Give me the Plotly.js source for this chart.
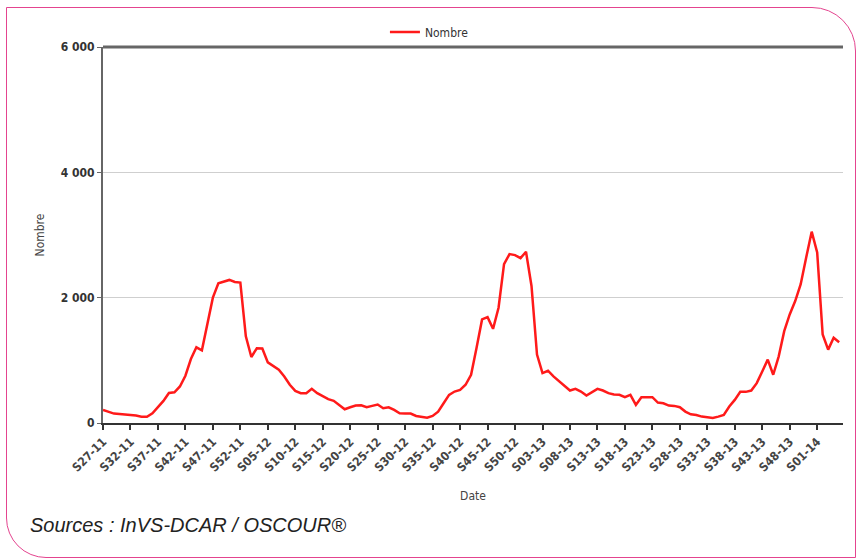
<!DOCTYPE html>
<html>
<head>
<meta charset="utf-8">
<script src="https://cdn.plot.ly/plotly-3.0.1.min.js"></script>
<style>
  html, body { margin: 0; padding: 0; background: #fff; }
  #wrap { position: relative; width: 858px; height: 558px; overflow: hidden; }
  #frame { position: absolute; left: 6px; top: 7px; width: 850px; height: 551px;
           border: 1.5px solid #e4448f; border-top-right-radius: 44px; border-bottom-left-radius: 40px;
           box-sizing: border-box; }
  #chart { position: absolute; left: 0; top: 0; width: 858px; height: 558px; }
</style>
</head>
<body>
<div id="wrap">
  <div id="frame"></div>
  <div id="chart"></div>
</div>
<script>
// Week labels (categories)
const weeks = [
  "S27-11","S28-11","S29-11","S30-11","S31-11","S32-11","S33-11","S34-11","S35-11","S36-11",
  "S37-11","S38-11","S39-11","S40-11","S41-11","S42-11","S43-11","S44-11","S45-11","S46-11",
  "S47-11","S48-11","S49-11","S50-11","S51-11","S52-11",
  "S01-12","S02-12","S03-12","S04-12","S05-12","S06-12","S07-12","S08-12","S09-12","S10-12",
  "S11-12","S12-12","S13-12","S14-12","S15-12","S16-12","S17-12","S18-12","S19-12","S20-12",
  "S21-12","S22-12","S23-12","S24-12","S25-12","S26-12","S27-12","S28-12","S29-12","S30-12",
  "S31-12","S32-12","S33-12","S34-12","S35-12","S36-12","S37-12","S38-12","S39-12","S40-12",
  "S41-12","S42-12","S43-12","S44-12","S45-12","S46-12","S47-12","S48-12","S49-12","S50-12",
  "S51-12","S52-12",
  "S01-13","S02-13","S03-13","S04-13","S05-13","S06-13","S07-13","S08-13","S09-13","S10-13",
  "S11-13","S12-13","S13-13","S14-13","S15-13","S16-13","S17-13","S18-13","S19-13","S20-13",
  "S21-13","S22-13","S23-13","S24-13","S25-13","S26-13","S27-13","S28-13","S29-13","S30-13",
  "S31-13","S32-13","S33-13","S34-13","S35-13","S36-13","S37-13","S38-13","S39-13","S40-13",
  "S41-13","S42-13","S43-13","S44-13","S45-13","S46-13","S47-13","S48-13","S49-13","S50-13",
  "S51-13","S52-13",
  "S01-14","S02-14","S03-14","S04-14","S05-14"
];

// Weekly counts ("Nombre")
const nombre = [
  208, 181, 150, 145, 140, 123, 118, 100, 100, 155,
  251, 353, 480, 490, 583, 754, 1021, 1208, 1160, 1599,
  2000, 2230, 2262, 2283, 2250, 2240,
  1384, 1053, 1192, 1190, 968, 903, 850, 743, 610, 513,
  476, 476, 545, 476, 422, 380, 353, 289, 219, 251,
  278, 283, 251, 273, 294, 235, 251, 208, 155, 150,
  150, 112, 101, 85, 112, 181, 315, 449, 502, 529,
  610, 770, 1200, 1652, 1689, 1503, 1840, 2534, 2695, 2679,
  2631, 2732,
  2186, 1091, 797, 834, 743, 663, 583, 518, 545, 502,
  438, 486, 545, 518, 476, 454, 449, 412, 449, 289,
  412, 412, 412, 326, 315, 278, 273, 251, 182, 139,
  128, 102, 96, 80, 102, 128, 262, 369, 497, 497,
  518, 636, 823, 1011, 770, 1064, 1465, 1732, 1946, 2214,
  2641, 3053,
  2722, 1412, 1171, 1359, 1288
];

const tickLabels = weeks.filter((w, i) => i % 5 === 0);
const yTicks = [0, 2000, 4000, 6000];

const fontFam = '"Liberation Sans Narrow", "DejaVu Sans Condensed", "Liberation Sans", Arial, sans-serif';

const trace = {
  x: weeks,
  y: nombre,
  type: 'scatter',
  mode: 'lines',
  name: 'Nombre',
  line: { color: '#ff1a1a', width: 2.5 }
};

const layout = {
  width: 858,
  height: 558,
  margin: { l: 103, r: 15, t: 47, b: 135 },
  paper_bgcolor: 'rgba(0,0,0,0)',
  plot_bgcolor: 'rgba(0,0,0,0)',
  separators: ', ',
  font: { family: fontFam, color: '#333', size: 12 },
  showlegend: true,
  legend: {
    orientation: 'h',
    x: 0.381, xanchor: 'left',
    y: 1.04, yanchor: 'middle',
    font: { family: fontFam, size: 12, color: '#333' },
    itemwidth: 30,
    bgcolor: 'rgba(0,0,0,0)'
  },
  xaxis: {
    type: 'category',
    range: [0, 134.7],
    tickmode: 'array',
    tickvals: tickLabels,
    ticktext: tickLabels,
    tickangle: -45,
    ticks: 'outside',
    ticklen: 5,
    tickwidth: 2,
    tickcolor: '#333',
    showline: true,
    linecolor: '#333',
    linewidth: 2,
    mirror: false,
    showgrid: false,
    zeroline: false,
    tickfont: { family: fontFam, size: 12, color: '#444', weight: 'bold' },
    title: { text: 'Date', font: { family: fontFam, size: 12, color: '#444' }, standoff: 18 }
  },
  yaxis: {
    range: [0, 6000],
    tickmode: 'array',
    tickvals: yTicks,
    separatethousands: true,
    tickformat: ',d',
    ticks: 'outside',
    ticklen: 4,
    tickcolor: '#666',
    showline: true,
    linecolor: '#666',
    linewidth: 2,
    showgrid: true,
    gridcolor: '#cfcfcf',
    gridwidth: 1,
    zeroline: false,
    tickfont: { family: fontFam, size: 12, color: '#333', weight: 'bold' },
    title: { text: 'Nombre', font: { family: fontFam, size: 12, color: '#444' }, standoff: 14 }
  },
  shapes: [
    { type: 'line', xref: 'paper', yref: 'paper', x0: 0, x1: 1, y0: 1, y1: 1,
      line: { color: '#666', width: 3 } }
  ],
  annotations: [
    { text: 'Sources : InVS-DCAR / OSCOUR®', xref: 'paper', yref: 'paper',
      x: -0.102, y: -0.272, xanchor: 'left', yanchor: 'middle', showarrow: false,
      font: { family: '"Liberation Sans", Arial, sans-serif', size: 20, color: '#222', style: 'italic' } }
  ]
};

Plotly.newPlot('chart', [trace], layout, { displayModeBar: false, staticPlot: true });
</script>
</body>
</html>
